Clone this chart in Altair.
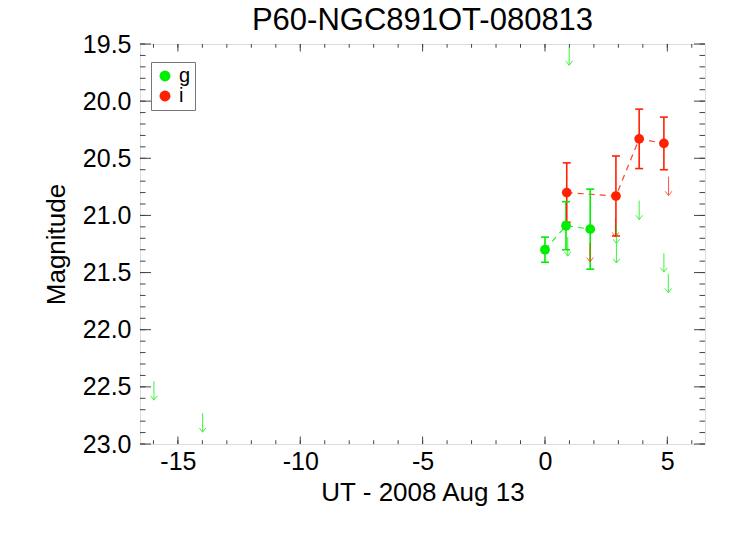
import altair as alt
import pandas as pd

# ---- data ----
g_x = [0.0, 0.86, 1.85]
g_mag = [21.30, 21.09, 21.12]
g_err = [0.11, 0.21, 0.35]

i_x = [0.89, 2.90, 3.85, 4.86]
i_mag = [20.80, 20.83, 20.33, 20.37]
i_err = [0.26, 0.35, 0.26, 0.23]

g_lim_x = [-15.98, -13.99, 0.99, 0.93, 2.92, 2.92, 3.85, 4.86, 5.04]
g_lim_mag = [22.45, 22.73, 19.52, 21.19, 21.08, 21.25, 20.87, 21.33, 21.51]

i_lim_x = [1.84, 2.88, 5.05]
i_lim_mag = [21.24, 21.02, 20.66]

x_ticks = [-15, -10, -5, 0, 5]
x_minor = [v for v in range(-16, 7)]
y_ticks = [19.5, 20.0, 20.5, 21.0, 21.5, 22.0, 22.5, 23.0]
y_minor = [round(19.5 + 0.1 * k, 1) for k in range(36)]

GREEN = "#00ee00"
RED = "#ff2200"
FONT = "Liberation Sans"

det = pd.DataFrame({
    "t": g_x + i_x,
    "mag": g_mag + i_mag,
    "err": g_err + i_err,
    "band": ["g"] * len(g_x) + ["i"] * len(i_x),
})
det["lo"] = det["mag"] - det["err"]
det["hi"] = det["mag"] + det["err"]
caps = pd.concat([
    det[["t", "band"]].assign(m=det["lo"]),
    det[["t", "band"]].assign(m=det["hi"]),
])
lims = pd.DataFrame({
    "t": g_lim_x + i_lim_x,
    "mag": g_lim_mag + i_lim_mag,
    "band": ["g"] * len(g_lim_x) + ["i"] * len(i_lim_x),
})

W, H = 565, 400
xscale = alt.Scale(domain=[-16.55, 6.54], nice=False, zero=False)
yscale = alt.Scale(domain=[19.5, 23.0], nice=False, zero=False, reverse=True)
cscale = alt.Scale(domain=["g", "i"], range=[GREEN, RED])

xaxis = alt.Axis(values=x_ticks, ticks=False, domain=False, grid=False,
                 labelExpr="'' + datum.value",
                 labelFontSize=25, labelFont=FONT, labelColor="black",
                 labelPadding=5, title="UT - 2008 Aug 13", titleFontSize=26,
                 titleFont=FONT, titleFontWeight="normal", titleColor="black",
                 titlePadding=5, labelFlush=False)
yaxis = alt.Axis(values=y_ticks, format=".1f", ticks=False, domain=False, grid=False,
                 labelFontSize=25, labelFont=FONT, labelColor="black",
                 labelPadding=9, title="Magnitude", titleFontSize=26,
                 titleFont=FONT, titleFontWeight="normal", titleColor="black",
                 titlePadding=13, labelFlush=False)

X = lambda f: alt.X(f, type="quantitative", scale=xscale, axis=xaxis, title="UT - 2008 Aug 13")
Y = lambda f: alt.Y(f, type="quantitative", scale=yscale, axis=yaxis, title="Magnitude")
C = alt.Color("band:N", scale=cscale, legend=None)

base = alt.Chart(det)

lines = base.mark_line(strokeDash=[6, 5], strokeWidth=1.2, opacity=0.85).encode(
    x=X("t"), y=Y("mag"), color=C, detail="band:N")

bars = base.mark_rule(strokeWidth=1.6).encode(
    x=X("t"), y=Y("lo"), y2="hi", color=C)

capm = alt.Chart(caps).mark_point(shape="M-1,0L1,0", size=64, filled=False,
                                  strokeWidth=1.6, opacity=1).encode(
    x=X("t"), y=Y("m"), color=C)

arrows = alt.Chart(lims).mark_point(
    shape="M0,0L0,2M-0.35,1.55L0,2L0.35,1.55", size=361, filled=False,
    strokeWidth=1.0, opacity=0.75).encode(
    x=X("t"), y=Y("mag"), color=C)

pts = base.mark_circle(size=95, opacity=1).encode(
    x=X("t"),
    y=Y("mag"),
    color=alt.Color("band:N", scale=cscale,
                    legend=alt.Legend(title=None, orient="none", legendX=11, legendY=18,
                                      symbolType="circle", symbolSize=120,
                                      symbolStrokeWidth=0, labelFontSize=20,
                                      labelFont=FONT, labelColor="black",
                                      padding=4, strokeColor="#777", fillColor="white",
                                      rowPadding=-3, labelOffset=4)))

TICK = "#444"
ymaj = pd.DataFrame({"v": y_ticks})
ymin = pd.DataFrame({"v": y_minor})
xmaj = pd.DataFrame({"v": x_ticks})
xmin = pd.DataFrame({"v": x_minor})

def yt(df, x0, x1):
    return alt.Chart(df).mark_rule(color=TICK, strokeWidth=1).encode(
        y=Y("v"), x=alt.value(x0), x2=alt.value(x1))

def xt(df, y0, y1):
    return alt.Chart(df).mark_rule(color=TICK, strokeWidth=1).encode(
        x=X("v"), y=alt.value(y0), y2=alt.value(y1))

ticks = [
    yt(ymaj, 0, 11), yt(ymin, 0, 5.5), yt(ymaj, W - 11, W), yt(ymin, W - 5.5, W),
    xt(xmaj, H - 7.5, H), xt(xmin, H - 3.75, H), xt(xmaj, 0, 7.5), xt(xmin, 0, 3.75),
]

chart = alt.layer(*ticks, lines, bars, capm, arrows, pts).resolve_scale(
    color="independent"
).properties(
    width=W, height=H,
    title=alt.Title("P60-NGC891OT-080813", fontSize=31, font=FONT,
                    fontWeight="normal", color="black", anchor="middle", offset=-5),
    autosize=alt.AutoSizeParams(type="none"),
    padding={"left": 132, "top": 36, "right": 34, "bottom": 82},
).configure_view(stroke="#444", strokeWidth=1.5).configure(background="white")

chart.save("out.html", embed_options={"renderer": "svg", "actions": False})
